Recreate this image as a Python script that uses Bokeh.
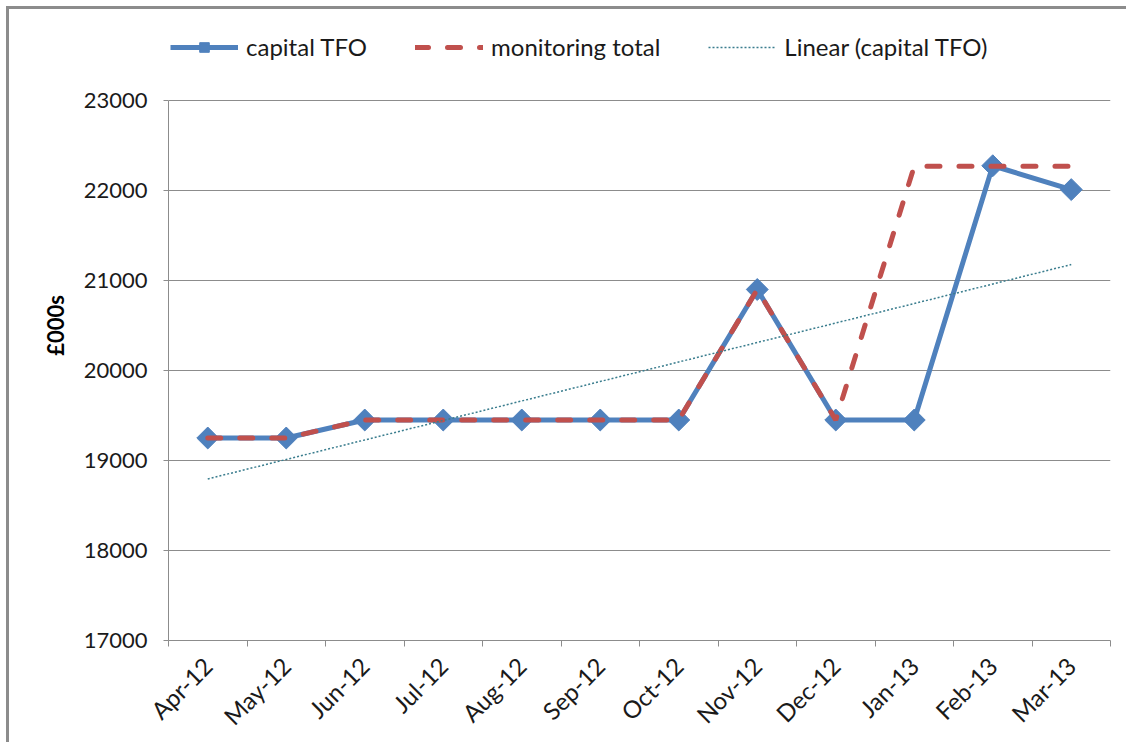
import math
import numpy as np
from bokeh.plotting import figure
from bokeh.models import (Range1d, FixedTicker, Legend, LegendItem)
from bokeh.embed import file_html
from bokeh.resources import INLINE

months = ["Apr-12", "May-12", "Jun-12", "Jul-12", "Aug-12", "Sep-12",
          "Oct-12", "Nov-12", "Dec-12", "Jan-13", "Feb-13", "Mar-13"]
capital_tfo = [19250, 19250, 19450, 19450, 19450, 19450,
               19450, 20900, 19450, 19450, 22275, 22010]
monitoring_total = [19250, 19250, 19450, 19450, 19450, 19450,
                    19450, 20900, 19450, 22270, 22270, 22270]
y_ticks = [17000, 18000, 19000, 20000, 21000, 22000, 23000]

x = list(range(1, len(months) + 1))
# Linear trendline (least squares) of capital TFO, as in the source chart
slope, intercept = np.polyfit(x, capital_tfo, 1)
trend = [slope * xi + intercept for xi in x]

FONT = "Lato"
BLUE = "#4F81BD"
RED = "#C0504D"
TEAL = "#3A7D8E"
GRID = "#8C8C8C"

# frame extends to the top of the chart so that the legend can sit inside it;
# the value axis itself only spans the tick range
W, H = 1120, 736
TOP, BOTTOM_PX, AXIS_PX = 1, 105, 540
frame_h = H - TOP - BOTTOM_PX
y_end = y_ticks[0] + (y_ticks[-1] - y_ticks[0]) * frame_h / AXIS_PX

p = figure(width=W, height=H, output_backend="svg", toolbar_location=None,
           x_range=Range1d(0.5, len(months) + 0.5),
           y_range=Range1d(y_ticks[0], y_end),
           min_border_left=159, min_border_right=19,
           min_border_top=TOP, min_border_bottom=BOTTOM_PX)
p.outline_line_color = None
p.background_fill_color = "white"
p.border_fill_color = "white"
# chart-area border: left and top edges (right/bottom run off the page)
p.margin = (6, 0, 0, 6)
p.styles = {"border-left": "3px solid #8c8c8c", "border-top": "3px solid #8c8c8c"}

r_line = p.line(x, capital_tfo, line_color=BLUE, line_width=5, line_join="round")
r_mark = p.scatter(x, capital_tfo, marker="square", angle=math.pi / 4, size=15.5,
                   fill_color=BLUE, line_color=BLUE)
r_mon = p.line(x, monitoring_total, line_color=RED, line_width=5,
               line_dash="13 19", line_cap="round")
r_tr = p.line(x, trend, line_color=TEAL, line_width=1.5, line_dash="2 2")

# axes
p.xaxis.ticker = FixedTicker(ticks=x, minor_ticks=[xi - 0.5 for xi in x] + [x[-1] + 0.5])
p.xaxis.major_label_overrides = {xi: m for xi, m in zip(x, months)}
p.xaxis.major_label_orientation = math.pi / 4
p.xaxis.major_tick_line_color = None
p.xaxis.minor_tick_line_color = GRID
p.xaxis.minor_tick_out = 6
p.xaxis.minor_tick_in = 0
p.xaxis.axis_line_color = GRID
p.xaxis.major_label_text_font = FONT
p.xaxis.major_label_text_font_size = "24px"
p.xaxis.major_label_text_color = "#1a1a1a"
p.xaxis.major_label_standoff = 15

p.yaxis.ticker = FixedTicker(ticks=y_ticks)
p.yaxis.bounds = (y_ticks[0], y_ticks[-1])
p.yaxis.minor_tick_line_color = None
p.yaxis.major_tick_line_color = GRID
p.yaxis.major_tick_out = 5
p.yaxis.major_tick_in = 0
p.yaxis.axis_line_color = GRID
p.yaxis.major_label_text_font = FONT
p.yaxis.major_label_text_font_size = "22px"
p.yaxis.major_label_text_color = "#1a1a1a"
p.yaxis.major_label_standoff = 16
p.yaxis.axis_label = "£000s"
p.yaxis.axis_label_text_font = FONT
p.yaxis.axis_label_text_font_size = "22px"
p.yaxis.axis_label_text_font_style = "bold"
p.yaxis.axis_label_text_color = "#000000"
p.yaxis.axis_label_standoff = 12

p.xgrid.grid_line_color = None
p.ygrid.grid_line_color = GRID
p.ygrid.grid_line_width = 1

legend = Legend(items=[
    LegendItem(label="capital TFO", renderers=[r_line, r_mark]),
    LegendItem(label="monitoring total", renderers=[r_mon]),
    LegendItem(label="Linear (capital TFO)", renderers=[r_tr]),
], orientation="horizontal", location=(2, 579),
    glyph_width=68, glyph_height=24, label_standoff=8, spacing=48,
    padding=0, margin=0, border_line_color=None, background_fill_alpha=0,
    label_text_font=FONT, label_text_font_size="24px", label_text_color="#1a1a1a")
p.add_layout(legend)

open("out.html", "w").write(file_html(p, INLINE))
